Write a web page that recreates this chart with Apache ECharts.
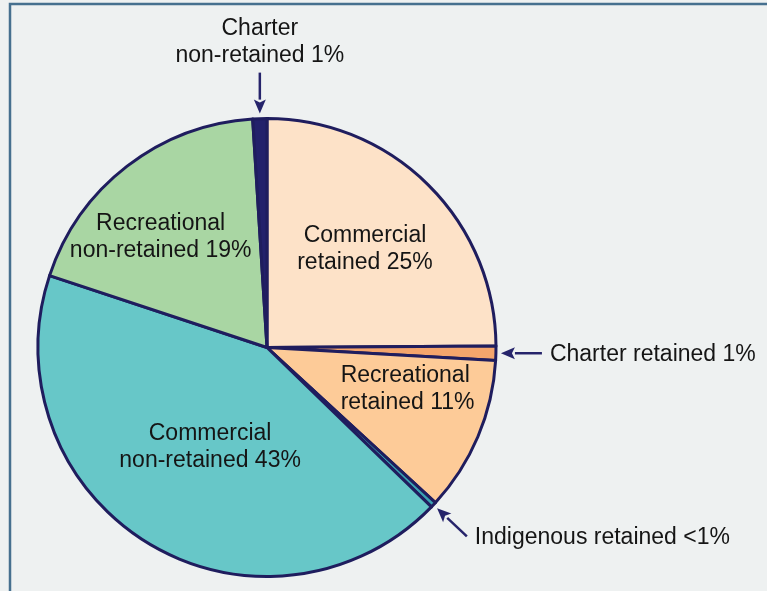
<!DOCTYPE html>
<html>
<head>
<meta charset="utf-8">
<script src="https://cdn.jsdelivr.net/npm/echarts@6/dist/echarts.min.js"></script>
<style>
  html, body { margin: 0; padding: 0; background: #EEF1F1; }
  #chart { width: 767px; height: 591px; }
</style>
</head>
<body>
<div id="chart"></div>
<script>
// Catch share by sector, clockwise from 12 o'clock
const CATEGORIES = [
  'Commercial retained',
  'Charter retained',
  'Recreational retained',
  'Indigenous retained',
  'Commercial non-retained',
  'Recreational non-retained',
  'Charter non-retained'
];
const SHARES = [25, 1, 11, 0.4, 43, 19, 1];
const SHARE_LABELS = ['25%', '1%', '11%', '<1%', '43%', '19%', '1%'];
const LABEL_NAMES = [
  'Commercial\nretained',
  'Charter retained',
  'Recreational\nretained',
  'Indigenous retained',
  'Commercial\nnon-retained',
  'Recreational\nnon-retained',
  'Charter\nnon-retained'
];

// Styling
const COLORS = ['#FDE2C8', '#F4A56C', '#FDCB98', '#3AA2B2', '#67C7C8', '#A9D6A3', '#23216B'];
const OUTLINE = '#1F1D5E';
const ARROW = '#26246B';
const FONT = '"Liberation Sans", Arial, sans-serif';

// Label placement: inside labels sit at a fraction of the radius (with a small
// angular nudge); 'out' labels are callouts with an arrow.
const PLACEMENT = [
  { mode: 'in', k: 0.607, turn: 0, align: 'center' },
  { mode: 'out' },
  { mode: 'in', k: 0.64, turn: -6.5, align: 'left' },
  { mode: 'out' },
  { mode: 'in', k: 0.50, turn: -1.4, align: 'center' },
  { mode: 'in', k: 0.668, turn: -6.4, align: 'center' },
  { mode: 'out' }
];
const TIP_GAP = 5, ARROW_LEN = 41;

const chart = echarts.init(document.getElementById('chart'), null, { renderer: 'canvas' });

function sliceLayout(i) {
  return chart.getModel().getSeriesByIndex(0).getData().getItemLayout(i);
}

// Arrow from outside the rim towards the middle of a thin slice; arrows that
// are nearly vertical or horizontal are squared up to the axis.
function calloutGeometry(i) {
  const lay = sliceLayout(i);
  const mid = (lay.startAngle + lay.endAngle) / 2;
  let dx = Math.cos(mid), dy = Math.sin(mid);
  const rim = [lay.cx + lay.r * dx, lay.cy + lay.r * dy];
  if (Math.abs(dx) < 0.1) { dx = 0; dy = Math.sign(dy); }
  else if (Math.abs(dy) < 0.1) { dy = 0; dx = Math.sign(dx); }
  const a = TIP_GAP, b = TIP_GAP + ARROW_LEN;
  return {
    dx, dy,
    tip: [rim[0] + a * dx, rim[1] + a * dy],
    tail: [rim[0] + b * dx, rim[1] + b * dy]
  };
}

const option = {
  backgroundColor: '#EEF1F1',
  animation: false,
  series: [{
    type: 'pie',
    silent: true,
    center: [267, 347.5],
    radius: 229,
    startAngle: 90,
    clockwise: true,
    avoidLabelOverlap: false,
    data: CATEGORIES.map((name, i) => ({
      name,
      value: SHARES[i],
      itemStyle: { color: COLORS[i] }
    })),
    itemStyle: { borderColor: OUTLINE, borderWidth: 3 },
    label: {
      show: true,
      position: 'inside',
      color: '#151515',
      fontFamily: FONT,
      fontSize: 23,
      lineHeight: 27,
      formatter: p => LABEL_NAMES[p.dataIndex] + ' ' + SHARE_LABELS[p.dataIndex]
    },
    labelLine: { show: false },
    labelLayout: function (params) {
      const i = params.dataIndex;
      const pl = PLACEMENT[i];
      const lay = sliceLayout(i);
      if (pl.mode === 'in') {
        const ang = (lay.startAngle + lay.endAngle) / 2 + pl.turn * Math.PI / 180;
        let x = lay.cx + pl.k * lay.r * Math.cos(ang);
        const y = lay.cy + pl.k * lay.r * Math.sin(ang);
        if (pl.align === 'left') x -= params.labelRect.width / 2;
        return { x, y, align: pl.align, verticalAlign: 'middle' };
      }
      const g = calloutGeometry(i);
      if (g.dy < 0 && Math.abs(g.dy) > Math.abs(g.dx)) {
        return { x: g.tail[0], y: g.tail[1] - 3, align: 'center', verticalAlign: 'bottom' };
      }
      return { x: g.tail[0] + 8, y: g.tail[1] + 1, align: 'left', verticalAlign: 'middle' };
    }
  }]
};

chart.setOption(option);

// Arrows pointing at the thin slices, plus the panel frame
const graphics = [{
  type: 'rect',
  silent: true,
  shape: { x: 10, y: 4, width: 820, height: 700 },
  style: { fill: 'none', stroke: '#46708F', lineWidth: 2.5 }
}];
PLACEMENT.forEach((pl, i) => {
  if (pl.mode !== 'out') return;
  const g = calloutGeometry(i);
  const head = 14, half = 6;
  const bx = g.tip[0] + g.dx * head, by = g.tip[1] + g.dy * head;
  const px = -g.dy, py = g.dx;
  graphics.push({
    type: 'line', silent: true,
    shape: { x1: g.tail[0], y1: g.tail[1], x2: bx, y2: by },
    style: { stroke: ARROW, lineWidth: 2.5 }
  });
  graphics.push({
    type: 'polygon', silent: true,
    shape: { points: [g.tip, [bx + px * half, by + py * half], [bx - g.dx * 3, by - g.dy * 3], [bx - px * half, by - py * half]] },
    style: { fill: ARROW }
  });
});
chart.setOption({ graphic: graphics });
</script>
</body>
</html>
